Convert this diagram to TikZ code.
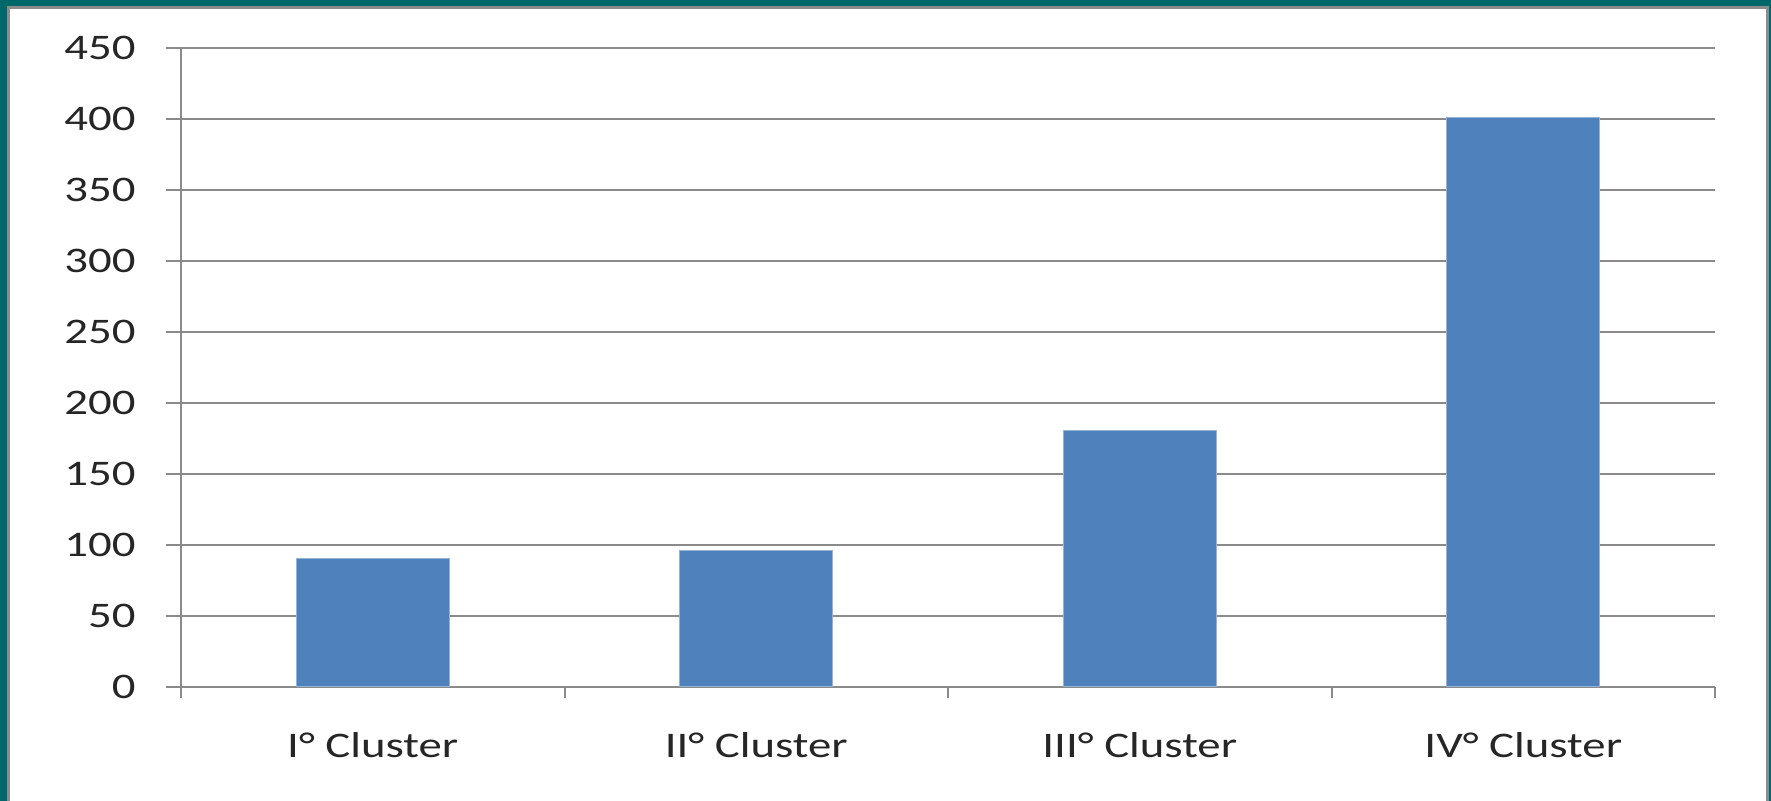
\documentclass[tikz,border=0pt]{standalone}
\usepackage{fontspec}
\usepackage{graphicx}
\setmainfont{Carlito}
\usepackage{tikz}
\definecolor{frameteal}{HTML}{006868}
\definecolor{framegray}{HTML}{8C8C8C}
\definecolor{gridgray}{HTML}{8A8A8A}
\definecolor{barblue}{HTML}{4F81BD}
\newcommand{\wide}[1]{\scalebox{1.3}[1]{#1}}
\begin{document}
\begin{tikzpicture}[x=0.5pt, y=-0.5pt, every node/.style={inner sep=0pt, font=\fontsize{18}{20}\selectfont, text=black!85}, grid/.style={gridgray, line width=1pt}, bar/.style={fill=barblue, draw=barblue!60!white, line width=0.4pt}]
  \useasboundingbox (0,0) rectangle (1771,801);
  % frame
  \fill[frameteal] (0,0) rectangle (1771,801);
  \fill[white] (8,8) rectangle (1767,801);
  \draw[framegray, line width=1.5pt] (8,801) -- (8,8) -- (1767,8) -- (1767,801);
  % value axis and gridlines
  \foreach \v in {0,50,...,450} {
    \draw[grid] (166,{686.7-1.4187*\v}) -- (1715,{686.7-1.4187*\v});
    \node[anchor=base east] (y\v) at (136,{698-1.4187*\v}) {\wide{\v}};
  }
  \draw[grid] (181,48.3) -- (181,698);
  \foreach \t in {564.5,948,1331.5,1715}
    \draw[grid] (\t,686.7) -- (\t,698);
  % bars
  \foreach \k/\val in {0/90.5,1/96,2/181,3/401}
    \draw[bar] ({296.2+383.5*\k},686.7) rectangle ({449.2+383.5*\k},{686.7-1.4187*\val});
  % category labels
  \node[anchor=base] (c1) at (372.75,757) {\wide{I° Cluster}};
  \node[anchor=base] (c2) at (756.25,757) {\wide{II° Cluster}};
  \node[anchor=base] (c3) at (1139.75,757) {\wide{III° Cluster}};
  \node[anchor=base] (c4) at (1523.25,757) {\wide{IV° Cluster}};
\end{tikzpicture}
\end{document}
